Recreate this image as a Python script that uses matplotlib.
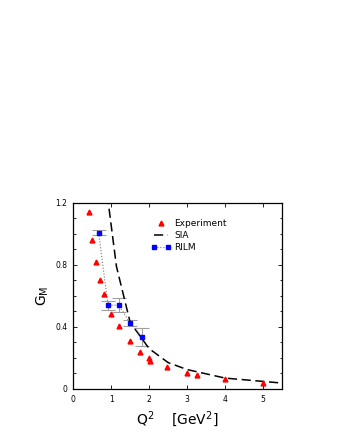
import matplotlib
matplotlib.use("Agg")
import matplotlib.pyplot as plt
from matplotlib.ticker import MultipleLocator
from matplotlib.legend_handler import HandlerLine2D

exp_q2 = [0.42, 0.51, 0.61, 0.71, 0.81, 1.0, 1.21, 1.5, 1.75, 2.0, 2.03, 2.48, 2.99, 3.25, 4.0, 4.99]
exp_gm = [1.14, 0.96, 0.82, 0.705, 0.615, 0.484, 0.404, 0.307, 0.241, 0.2, 0.183, 0.142, 0.101, 0.09, 0.062, 0.037]

sia_q2 = [0.9, 1.14, 1.5, 2.0, 2.5, 3.0, 4.0, 5.4]
sia_gm = [1.25, 0.79, 0.43, 0.26, 0.17, 0.125, 0.07, 0.04]

rilm_q2 = [0.67, 0.92, 1.2, 1.5, 1.82]
rilm_gm = [1.008, 0.54, 0.54, 0.426, 0.335]
rilm_err = [0.018, 0.028, 0.045, 0.02, 0.058]


class RightMarker(HandlerLine2D):
    def get_xdata(self, legend, xdescent, ydescent, width, height, fontsize):
        xd, _ = super().get_xdata(legend, xdescent, ydescent, width, height, fontsize)
        return xd, [width - xdescent - 2]


fig = plt.figure(figsize=(3.4, 4.4), dpi=100)
ax = fig.add_axes([0.215, 0.116, 0.615, 0.423])

ax.errorbar(rilm_q2, rilm_gm, yerr=rilm_err, fmt='none', ecolor='#a0a0a0',
            elinewidth=0.8, capsize=5, capthick=0.8, zorder=2)
rl, = ax.plot(rilm_q2, rilm_gm, color='#777777', ls=':', lw=0.8, marker='s', ms=3.5,
              mfc='#0000ff', mec='#0000ff', label='RILM', zorder=3)
sl, = ax.plot(sia_q2, sia_gm, color='black', ls=(0, (6, 3)), lw=1.1, label='SIA', zorder=2)
el, = ax.plot(exp_q2, exp_gm, ls='none', marker='^', ms=3.5, color='#ff0000',
              label='Experiment', zorder=4)

ax.set_xlim(0, 5.5)
ax.set_ylim(0, 1.2)
ax.set_xticks([0, 1, 2, 3, 4, 5])
ax.set_yticks([0, 0.4, 0.8, 1.2])
ax.set_yticklabels(['0', '0.4', '0.8', '1.2'])
ax.yaxis.set_minor_locator(MultipleLocator(0.1))
ax.tick_params(which='both', direction='in', top=True, right=True, labelsize=5.5, pad=4)
ax.tick_params(which='major', length=3, width=0.6)
ax.tick_params(which='minor', length=1.8, width=0.6)
for s in ax.spines.values():
    s.set_linewidth(0.9)

ax.set_xlabel(r'Q$^2$    [GeV$^2$]', fontsize=10, labelpad=4)
ax.set_ylabel(r'G$_{\mathrm{M}}$', fontsize=10, labelpad=3)

ax.legend([el, sl, rl], ['Experiment', 'SIA', 'RILM'], frameon=False, fontsize=6.5,
          loc='upper left', bbox_to_anchor=(0.35, 0.935), handlelength=2.2, numpoints=2,
          handletextpad=0.4, labelspacing=0.3, borderpad=0,
          handler_map={el: RightMarker(numpoints=1)})

fig.savefig('out.png', dpi=100)
